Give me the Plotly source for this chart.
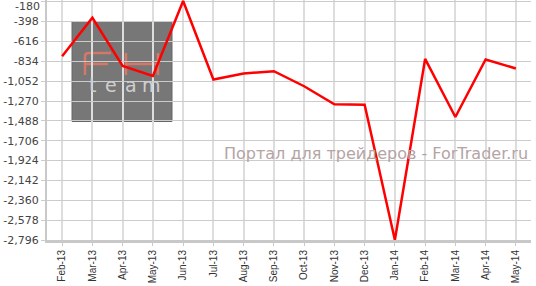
import plotly.graph_objects as go

months = ["Feb-13", "Mar-13", "Apr-13", "May-13", "Jun-13", "Jul-13", "Aug-13", "Sep-13",
          "Oct-13", "Nov-13", "Dec-13", "Jan-14", "Feb-14", "Mar-14", "Apr-14", "May-14"]
values = [-778, -356, -885, -995, -172, -1034, -968, -943,
          -1108, -1306, -1312, -2796, -808, -1446, -814, -913]
y_ticks = [-180, -398, -616, -834, -1052, -1270, -1488, -1706, -1924, -2142, -2360, -2578, -2796]
y_tick_labels = ["-180", "-398", "-616", "-834", "-1,052", "-1,270", "-1,488", "-1,706",
                 "-1,924", "-2,142", "-2,360", "-2,578", "-2,796"]
watermark = "Портал для трейдеров - ForTrader.ru"

W, H = 536, 286
L, R, T, B = 47, 5, 0, 46
PW, PH = W - L - R, H - T - B


def px(x):
    return (x - L) / PW


def py(y):
    return (H - B - y) / PH


fig = go.Figure()
fig.add_trace(go.Scatter(x=months, y=values, mode="lines",
                         line=dict(color="#ff0000", width=2.5), hoverinfo="skip"))

shapes = [dict(type="rect", xref="paper", yref="paper", x0=px(72), x1=px(172),
               y0=py(121.5), y1=py(21.5), fillcolor="#777777",
               line=dict(color="#666666", width=1), layer="below")]
salmon = "rgba(230,120,100,0.85)"
# F
shapes.append(dict(type="path", xref="paper", yref="paper", layer="below",
                   path=f"M {px(85)},{py(75)} L {px(85)},{py(56)} Q {px(85)},{py(53)} {px(89)},{py(53)} L {px(111)},{py(53)}",
                   line=dict(color=salmon, width=2.5)))
shapes.append(dict(type="line", xref="paper", yref="paper", layer="below",
                   x0=px(85), x1=px(108), y0=py(64), y1=py(64),
                   line=dict(color=salmon, width=2.5)))
# H
for xx in (126, 158):
    shapes.append(dict(type="line", xref="paper", yref="paper", layer="below",
                       x0=px(xx), x1=px(xx), y0=py(53), y1=py(75),
                       line=dict(color=salmon, width=2.5)))
shapes.append(dict(type="line", xref="paper", yref="paper", layer="below",
                   x0=px(126), x1=px(158), y0=py(64), y1=py(64),
                   line=dict(color=salmon, width=2.5)))

annotations = [dict(text=watermark, xref="paper", yref="paper", x=px(530), y=py(153),
                    xanchor="right", yanchor="middle", showarrow=False,
                    font=dict(family="DejaVu Sans", size=16, color="#b4a4a4")),
               # top tick label, pushed down so it stays inside the page
               dict(text=y_tick_labels[0], xref="paper", yref="paper", x=px(41.5), y=py(6.5),
                    xanchor="right", yanchor="middle", showarrow=False,
                    font=dict(family="DejaVu Sans", size=11, color="#444444"))]
for ch, xx in zip("team", (92, 111, 131, 151)):
    annotations.append(dict(text=ch, xref="paper", yref="paper", x=px(xx), y=py(85),
                            xanchor="center", yanchor="middle", showarrow=False,
                            font=dict(family="DejaVu Sans", size=19, color="#cfcfcf")))

tick_text = [""] + y_tick_labels[1:]

fig.update_layout(
    width=W, height=H, margin=dict(l=L, r=R, t=T, b=B),
    paper_bgcolor="white", plot_bgcolor="white", showlegend=False,
    shapes=shapes, annotations=annotations,
    xaxis=dict(type="category", range=[-0.5, 15.5], tickangle=-90,
               showgrid=True, gridcolor="#dddddd", gridwidth=2,
               showline=True, linecolor="#c8c8c8", linewidth=3,
               ticks="outside", ticklen=3, tickcolor="#c8c8c8",
               tickfont=dict(family="Liberation Sans", size=10, color="#333333")),
    yaxis=dict(range=[-2796, -161], tickvals=y_ticks, ticktext=tick_text,
               showgrid=True, gridcolor="#cccccc", gridwidth=1, zeroline=False,
               showline=True, linecolor="#c8c8c8", linewidth=2,
               ticks="outside", ticklen=4, tickcolor="#cccccc",
               tickfont=dict(family="DejaVu Sans", size=11, color="#444444")),
)

fig.write_html("out.html")
